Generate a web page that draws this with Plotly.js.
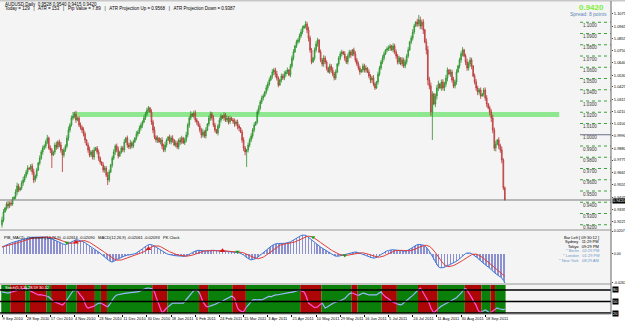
<!DOCTYPE html>
<html><head><meta charset="utf-8">
<script src="https://cdn.plot.ly/plotly-3.0.1.min.js"></script>
<style>html,body{margin:0;padding:0;background:#fff;}#chart{width:625px;height:323px;}</style>
</head><body><div id="chart"></div>
<script>
// ---- DATA ----
const dateLabels = ['9 Sep 2010','28 Sep 2010','17 Oct 2010','4 Nov 2010','23 Nov 2010','11 Dec 2010','30 Dec 2010','18 Jan 2011','6 Feb 2011','24 Feb 2011','15 Mar 2011','3 Apr 2011','21 Apr 2011','10 May 2011','29 May 2011','16 Jun 2011','5 Jul 2011','24 Jul 2011','11 Aug 2011','30 Aug 2011','18 Sep 2011'];
const dateLabelBars = [0,16,32,48,64,80,96,112,128,144,160,176,192,208,224,240,256,272,288,304,320];
const firstOpen = 9200; // price x 10000
// daily closes (price x 10000)
const closeX = [
9242,9313,9349,9384,9367,9393,9384,9429,9447,9491,9544,9509,9527,9571,9598,9633,
9669,9704,9696,9722,9669,9598,9633,9687,9749,9793,9847,9882,9900,9936,9971,9882,
9865,9820,9847,9909,9891,9936,9909,9865,9820,9865,9900,9971,10042,10087,10149,10167,
10185,10131,10149,10087,10065,10042,10007,9953,9909,9865,9820,9847,9802,9865,9882,9847,
9793,9758,9731,9687,9704,9642,9598,9669,9731,9793,9847,9900,9865,9811,9847,9882,
9865,9936,9971,9909,9891,9927,9900,9936,9971,10007,10025,10060,10087,10113,10149,10185,
10220,10238,10202,10113,10042,9980,9953,9971,9936,9953,9900,9865,9909,9953,9980,9936,
9971,9953,9909,9927,9891,9953,9936,9971,9927,9953,9998,10087,10149,10185,10167,10193,
10131,10113,10078,10042,9998,10025,9989,10042,10096,10149,10185,10149,10087,10042,10016,10078,
10131,10167,10149,10176,10131,10149,10113,10149,10131,10120,10096,10113,10078,10060,10025,9953,
9882,9847,9865,9909,9953,9989,10042,10087,10113,10202,10238,10291,10327,10345,10380,10416,
10451,10487,10522,10558,10576,10540,10505,10442,10487,10522,10505,10540,10558,10576,10531,10611,
10682,10736,10789,10825,10842,10878,10914,10949,10967,10985,10931,10860,10754,10647,10682,10754,
10807,10842,10736,10665,10629,10682,10647,10593,10558,10611,10576,10540,10505,10558,10629,10682,
10718,10736,10718,10682,10647,10700,10736,10709,10754,10718,10665,10629,10593,10558,10576,10611,
10576,10593,10558,10522,10487,10505,10451,10416,10469,10540,10593,10647,10682,10718,10754,10765,
10771,10789,10754,10789,10736,10700,10647,10682,10629,10665,10611,10647,10700,10754,10825,10860,
10914,10967,11002,10985,11020,10967,11002,10931,10825,10754,10487,10434,10202,10362,10273,10345,
10416,10451,10416,10469,10416,10451,10505,10576,10540,10558,10487,10434,10469,10558,10611,10665,
10718,10754,10700,10647,10593,10629,10665,10611,10522,10469,10416,10380,10398,10345,10362,10398,
10327,10274,10238,10202,10149,10042,9882,9918,9953,9900,9865,9776,9528,9420
];
// upper / lower shadow lengths in pips
const wickUp = [
30,25,8,20,28,15,22,18,6,25,30,20,10,22,28,18,
20,25,8,18,22,30,15,20,10,25,18,22,15,20,28,12,
25,18,10,20,30,15,22,28,8,20,15,25,30,18,22,35,
20,28,10,15,22,18,25,20,8,22,30,15,20,25,10,18,
22,15,8,25,20,18,28,22,10,20,25,15,22,30,8,20,
18,25,10,22,20,28,15,20,8,25,18,22,20,15,25,20,
22,18,10,25,20,30,15,22,8,18,25,20,28,15,10,22,
20,25,8,22,18,15,25,20,10,22,28,18,15,25,8,20,
25,18,10,22,20,28,15,25,8,20,22,18,25,20,10,18,
22,20,8,25,18,22,15,20,10,18,25,20,22,15,8,20,
25,18,10,22,20,25,18,22,8,20,25,18,22,20,10,25,
20,22,8,25,18,20,28,15,10,22,20,25,18,22,8,20,
22,25,10,20,18,22,25,20,8,26,20,30,22,18,10,22,
25,20,8,22,18,25,20,15,10,22,18,25,20,22,8,18,
22,20,10,25,18,22,20,15,8,20,25,18,22,20,10,22,
20,25,8,22,18,20,25,15,10,22,20,18,25,22,8,20,
22,18,10,25,20,22,18,20,8,25,20,22,18,25,10,22,
25,20,8,28,45,30,22,25,10,30,35,28,30,25,12,22,
25,30,10,22,25,20,28,22,8,25,20,28,22,25,10,20,
22,25,10,20,28,22,25,20,8,22,25,20,18,22,10,20,
22,25,8,20,25,30,22,28,10,25,20,30,15,12
];
const wickDn = [
25,20,6,22,25,18,20,15,8,22,28,20,12,18,25,20,
18,22,8,20,25,28,18,22,10,20,15,25,18,22,20,15,
28,116,10,22,25,18,20,25,151,22,18,20,25,22,15,20,
22,25,10,18,20,25,22,28,8,25,20,18,22,25,10,20,
25,20,8,22,25,18,45,20,10,22,18,25,20,22,8,18,
20,22,10,25,18,20,22,18,8,20,22,18,20,25,10,18,
18,22,8,25,28,20,22,25,10,22,28,20,18,22,8,20,
22,25,10,20,18,22,25,20,8,18,20,22,25,18,10,22,
20,25,8,22,28,20,18,22,10,20,25,22,18,20,8,22,
20,22,10,25,18,20,22,18,8,22,25,20,30,28,10,25,
28,30,134,22,20,18,22,20,8,18,22,20,18,22,10,20,
22,18,10,25,28,30,22,20,8,22,18,20,25,18,10,20,
20,22,8,18,20,22,18,20,10,22,28,30,25,20,8,22,
22,25,10,20,22,25,20,22,8,18,25,20,22,18,10,20,
20,22,8,25,18,22,20,25,10,20,22,18,20,25,8,22,
22,25,10,20,28,25,20,18,8,22,20,18,20,22,10,20,
20,25,8,22,20,25,22,20,10,22,18,20,22,18,8,20,
22,20,10,25,22,28,30,35,12,40,45,30,35,249,10,28,
30,28,10,25,22,28,25,30,10,25,22,20,22,25,8,22,
25,22,10,28,25,22,25,28,10,22,25,28,22,25,8,22,
25,28,10,30,35,28,25,30,10,28,25,30,20,5
];
// MACD(12,26,9) main values x 10000
const macdX = [
63,70,76,82,88,94,99,104,108,113,118,123,127,132,136,140,
143,146,148,150,151,150,149,150,152,153,154,153,152,150,148,144,
140,136,131,126,120,113,106,99,92,86,84,88,95,103,112,120,
126,128,127,123,120,117,110,101,91,80,69,58,48,40,33,26,
18,8,-4,-16,-28,-40,-52,-62,-70,-72,-68,-60,-50,-42,-36,-30,
-26,-20,-14,-11,-10,-8,-6,-3,2,9,17,26,36,46,57,68,
78,84,86,84,78,70,61,52,43,35,26,18,10,3,-3,-7,
-10,-12,-14,-16,-18,-19,-20,-22,-23,-22,-19,-13,-5,4,13,21,
27,31,33,33,32,30,28,26,26,28,31,33,34,32,29,27,
26,26,25,26,25,24,22,21,19,18,17,15,13,10,6,0,
-10,-22,-34,-44,-50,-54,-52,-48,-42,-34,-24,-13,-2,10,22,34,
46,58,68,77,85,91,94,94,93,93,94,96,98,101,103,109,
117,126,135,144,152,160,166,170,171,168,160,149,136,122,110,100,
91,82,72,62,53,44,36,27,18,10,2,-6,-14,-20,-22,-20,
-16,-12,-8,-4,-1,2,6,10,14,17,18,16,12,7,2,-3,
-8,-14,-20,-26,-32,-36,-38,-36,-32,-24,-14,-4,6,16,25,28,
31,36,38,38,36,33,31,28,27,25,24,25,28,33,41,50,
60,70,78,84,86,86,84,80,72,60,44,24,0,-30,-56,-80,
-100,-115,-124,-126,-124,-120,-114,-106,-98,-90,-84,-78,-72,-66,-56,-44,
-30,-16,-4,4,8,10,8,3,-5,-15,-27,-39,-52,-64,-76,-87,
-98,-108,-118,-128,-140,-153,-168,-180,-190,-198,-207,-218,-238,-261
];
// oscillator (lower window), 0..100
const oscVals = [
75,74,73,72,72,73,74,75,76,77,78,79,80,82,83,84,
85,83,80,77,75,72,70,67,67,68,67,66,67,65,63,62,
58,55,50,49,47,46,45,43,41,44,49,54,60,67,75,78,
78,80,77,70,66,62,56,45,36,33,34,35,36,38,41,44,
46,46,45,42,40,38,36,40,46,54,60,64,67,68,70,71,
72,72,72,72,73,73,74,74,75,75,75,76,78,80,82,84,
85,85,85,84,80,75,62,50,41,30,20,24,30,33,36,40,
44,46,46,46,46,47,46,46,46,50,55,60,67,70,74,78,
80,80,76,70,58,50,44,38,36,37,39,40,41,42,45,47,
49,49,51,53,55,57,60,62,64,62,58,45,33,28,25,23,
24,30,36,41,45,50,54,55,54,54,55,54,54,56,58,60,
62,64,62,64,66,67,67,68,69,70,71,72,72,72,73,74,
74,75,76,77,78,80,78,76,75,68,58,46,43,40,36,34,
35,36,40,44,46,40,33,35,38,41,43,45,47,49,50,51,
52,54,54,58,62,67,70,72,72,71,69,67,66,68,70,72,
71,69,68,67,67,68,67,67,67,70,73,75,70,65,62,60,
58,54,50,49,47,45,43,42,41,43,46,49,52,55,58,62,
66,70,75,78,82,85,80,73,66,62,55,45,33,25,20,24,
28,32,36,38,40,42,44,46,48,50,52,54,57,60,64,67,
72,77,82,85,80,73,67,60,54,49,40,30,23,22,24,27,
28,26,24,20,22,25,28,31,33,31,30,28,29,30
];
// colour of the lower window background: [first bar, colour]
const bandRuns = [[0,'g'],[6,'r'],[16,'g'],[19,'r'],[30,'g'],[33,'r'],[43,'g'],[50,'r'],[62,'g'],[66,'r'],[70,'g'],[100,'r'],[110,'g'],[131,'r'],[137,'g'],[153,'r'],[162,'g'],[198,'r'],[212,'g'],[232,'r'],[236,'g'],[252,'r'],[262,'g'],[276,'r'],[289,'g'],[307,'r'],[318,'g'],[324,'r'],[327,'g']];
const oscLevels = [80,50,20];
const supportZone = {fromBar:47, toBar:369, lo:1.0158, hi:1.0202};
const roundLevels = [1.10,1.09,1.08,1.07,1.06,1.05,1.04,1.03,1.02,1.01,1.00,0.99,0.98,0.97,0.96,0.95,0.94,0.93,0.92];
const priceTicks = [1.1190,1.1075,1.0965,1.0855,1.0750,1.0640,1.0530,1.0425,1.0315,1.0210,1.0100,0.9990,0.9880,0.9775,0.9665,0.9555,0.9445,0.9335,0.9225];
const bid = 0.9420;
const macdTicks = [0.0207, 0, -0.0261];
const macdTickText = ['0.0207','0.00','-0.0261'];
const redArrowBars = [49,97,146];
const greenArrowBars = [43,156,206,227];
const clockLines = [['Bar Left [ 09:30:12 ]','#000'],['Sydney   11:29 PM','#000'],['Tokyo   09:29 PM','#000'],['* Berlin   02:29 PM','#6f97c9'],['* London   01:29 PM','#6f97c9'],['* New York   08:29 AM','#6f97c9']];

// ---- BUILD ----
const N = closeX.length;
const idx = closeX.map((_, i) => i);
const close = closeX.map(v => v / 1e4);
const open = close.map((c, i) => i === 0 ? firstOpen / 1e4 : close[i - 1]);
const high = close.map((c, i) => Math.max(open[i], c) + wickUp[i] / 1e4);
const low = close.map((c, i) => Math.min(open[i], c) - wickDn[i] / 1e4);
const macd = macdX.map(v => v / 1e4);
const signal = macd.map((v, i) => { const w = macd.slice(Math.max(0, i - 8), i + 1); return w.reduce((a, b) => a + b, 0) / w.length; });

const W = 625, H = 323;
const px = x => x / W, py = y => 1 - y / H;
const XR = 611; // right edge of plot area
const FONT = 'Liberation Sans, Arial, sans-serif';

const traces = [];
traces.push({type:'candlestick', x:idx, open:open, high:high, low:low, close:close, xaxis:'x', yaxis:'y',
  increasing:{line:{color:'#2a922a', width:0.8}, fillcolor:'#5cbc5c'},
  decreasing:{line:{color:'#b83030', width:0.8}, fillcolor:'#eaa8a8'},
  whiskerwidth:0, hoverinfo:'skip'});
traces.push({type:'bar', x:idx, y:macd, xaxis:'x', yaxis:'y2', width:0.55, marker:{color:'#8c8fd0', line:{width:0}}, hoverinfo:'skip'});
traces.push({type:'scatter', mode:'lines', x:idx, y:macd, xaxis:'x', yaxis:'y2', line:{color:'#3e78d6', width:1}, hoverinfo:'skip'});
traces.push({type:'scatter', mode:'lines', x:idx, y:signal, xaxis:'x', yaxis:'y2', line:{color:'#e23b3b', width:1}, hoverinfo:'skip'});
traces.push({type:'scatter', mode:'markers', x:redArrowBars, y:redArrowBars.map(i => signal[i]), xaxis:'x', yaxis:'y2', marker:{symbol:'triangle-up', size:5, color:'#e01818'}, hoverinfo:'skip'});
traces.push({type:'scatter', mode:'markers', x:greenArrowBars, y:greenArrowBars.map(i => signal[i]), xaxis:'x', yaxis:'y2', marker:{symbol:'triangle-down', size:4, color:'#18a018'}, hoverinfo:'skip'});

const shapes = [];
// lower window background bands
bandRuns.forEach((r, k) => {
  const s = r[0], e = k + 1 < bandRuns.length ? bandRuns[k + 1][0] : N;
  shapes.push({type:'rect', xref:'x', yref:'y3 domain', x0:s - 0.5, x1:e - 0.5, y0:0, y1:1, fillcolor:r[1] === 'g' ? '#0a7f0a' : '#ac0606', line:{width:0}, layer:'below'});
  const xs = idx.slice(s, Math.min(e + 1, N)), ys = oscVals.slice(s, Math.min(e + 1, N));
  traces.push({type:'scatter', mode:'lines', x:xs, y:ys, xaxis:'x', yaxis:'y3', line:{color:r[1] === 'g' ? '#9db8ff' : '#ff55e0', width:1.2}, hoverinfo:'skip'});
});
oscLevels.forEach(v => shapes.push({type:'line', xref:'paper', yref:'y3', x0:0, x1:px(XR), y0:v, y1:v, line:{color:'#000', width:1.5}}));
// support zone
shapes.push({type:'rect', xref:'x', yref:'y', x0:supportZone.fromBar, x1:supportZone.toBar, y0:supportZone.lo, y1:supportZone.hi, fillcolor:'#8fe88f', line:{width:0}, layer:'below'});
// round level markers
roundLevels.forEach(v => shapes.push({type:'line', xref:'paper', yref:'y', x0:px(580), x1:px(XR), y0:v, y1:v, line:{color:Math.abs(v - 1) < 1e-9 ? '#6b6b8c' : '#3aa23a', width:1, dash:Math.abs(v - 1) < 1e-9 ? 'solid' : 'dot'}}));
// bid line
shapes.push({type:'line', xref:'paper', yref:'y', x0:0, x1:px(XR), y0:bid, y1:bid, line:{color:'#7a7a7a', width:1}});
// frame
shapes.push({type:'rect', xref:'paper', yref:'paper', x0:0, x1:1, y0:py(1.5), y1:1, fillcolor:'#c8c8c8', line:{width:0}});
[230, 284, 314].forEach(y => shapes.push({type:'line', xref:'paper', yref:'paper', x0:0, x1:px(XR), y0:py(y), y1:py(y), line:{color:'#8a8a8a', width:1}}));
shapes.push({type:'line', xref:'paper', yref:'paper', x0:px(XR), x1:px(XR), y0:py(314), y1:py(1), line:{color:'#666', width:1}});

const ann = [];
const A = (text, x, y, o) => ann.push(Object.assign({text:text, xref:'paper', yref:'paper', x:px(x), y:py(y), showarrow:false, xanchor:'left', yanchor:'middle', font:{family:FONT, size:4.5, color:'#000'}}, o || {}));
A('AUDUSD,Daily  0.9528 0.9540 0.9415 0.9420', 3, 4);
A('Today = 129   |   ATR = 153   |   Pip Value = 7.89   |   ATR Projection Up = 0.9568   |   ATR Projection Down = 0.9387', 3, 9);
A('<b>0.9420</b>', 606, 7, {xanchor:'right', font:{family:FONT, size:8, color:'#7ff03a'}});
A('Spread: 8 points', 609, 14, {xanchor:'right', font:{family:FONT, size:5, color:'#5f86b8'}});
roundLevels.forEach(v => ann.push({text:v.toFixed(4), xref:'paper', yref:'y', x:px(581), y:v, yshift:-3, showarrow:false, xanchor:'left', yanchor:'middle', font:{family:FONT, size:4.5, color:'#3a3a3a'}}));
ann.push({text:bid.toFixed(4), xref:'paper', yref:'y', x:px(612), y:bid, yshift:-1, showarrow:false, xanchor:'left', yanchor:'middle', bgcolor:'#000', borderpad:0, font:{family:FONT, size:3.8, color:'#fff'}});
A('PIB_MACD_Crossover(12,26,9) -0.02614 -0.02090   MACD(12,26,9) -0.02061 -0.02093   PK Clock', 2, 237, {font:{family:FONT, size:4, color:'#000'}});
clockLines.forEach((c, k) => A(c[0], 601, 237 + k * 4.6, {xanchor:'right', font:{family:FONT, size:4, color:c[1]}}));
A('Stoch(5,3,3) 28.59 30.12', 3, 287.5, {font:{family:FONT, size:4, color:'#fff'}});
oscLevels.forEach(v => ann.push({text:String(v), xref:'paper', yref:'y3', x:px(612), y:v, showarrow:false, xanchor:'left', yanchor:'middle', bgcolor:'#000', borderpad:0, font:{family:FONT, size:4, color:'#fff'}}));

const layout = {
  width:W, height:H, margin:{l:0, r:0, t:0, b:0}, paper_bgcolor:'#ffffff', plot_bgcolor:'#f4f4f4',
  showlegend:false, bargap:0, font:{family:FONT, size:4, color:'#000'},
  xaxis:{domain:[0, px(XR)], range:[-1.325, 403.3], anchor:'y3', tickvals:dateLabelBars, ticktext:dateLabels, ticklabelposition:'outside right', tickangle:0,
    ticks:'outside', ticklen:2, tickcolor:'#000', tickfont:{family:FONT, size:4}, showgrid:false, zeroline:false, showline:false, rangeslider:{visible:false}, fixedrange:true, automargin:false},
  yaxis:{domain:[py(229), 1], range:[0.91622, 1.11980], side:'right', anchor:'x', tickvals:priceTicks, ticktext:priceTicks.map(v => v.toFixed(4)),
    ticks:'outside', ticklen:1, tickfont:{family:FONT, size:4}, showgrid:false, zeroline:false, automargin:false},
  yaxis2:{domain:[py(283), py(231)], range:[-0.0262, 0.0207], side:'right', anchor:'x', tickvals:macdTicks, ticktext:macdTickText,
    ticks:'outside', ticklen:1, tickfont:{family:FONT, size:3.6}, showgrid:false, zeroline:false, automargin:false},
  yaxis3:{domain:[py(314), py(285)], range:[17.4, 93], side:'right', anchor:'x', showticklabels:false, showgrid:false, zeroline:false},
  shapes:shapes, annotations:ann
};
Plotly.newPlot('chart', traces, layout, {staticPlot:true, displayModeBar:false});
</script></body></html>
